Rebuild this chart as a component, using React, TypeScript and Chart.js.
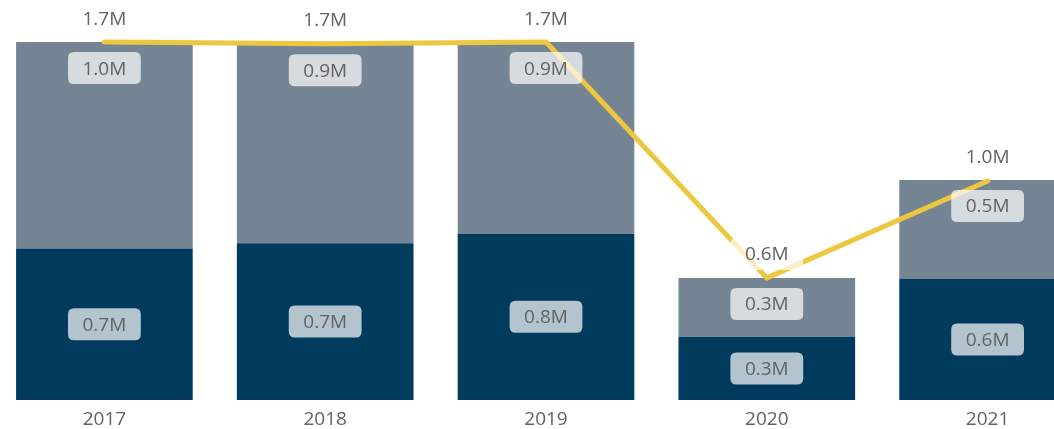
import { useEffect, useRef } from "react";
import { Chart, registerables } from "chart.js";

Chart.register(...registerables);

const years = ["2017", "2018", "2019", "2020", "2021"];
const lowerValues = [0.72, 0.745, 0.79, 0.3, 0.575];
const upperValues = [0.98, 0.945, 0.91, 0.28, 0.47];
const totalValues = [1.7, 1.692, 1.7, 0.58, 1.04];

const DARK = "#003a5c";
const GRAY = "#768593";
const YELLOW = "#ecc73f";
const TEXT = "#626262";
const FONT = '"Open Sans", "Noto Sans", sans-serif';

function roundRect(ctx: CanvasRenderingContext2D, x: number, y: number, w: number, h: number, r: number) {
  ctx.beginPath();
  ctx.moveTo(x + r, y);
  ctx.lineTo(x + w - r, y);
  ctx.quadraticCurveTo(x + w, y, x + w, y + r);
  ctx.lineTo(x + w, y + h - r);
  ctx.quadraticCurveTo(x + w, y + h, x + w - r, y + h);
  ctx.lineTo(x + r, y + h);
  ctx.quadraticCurveTo(x, y + h, x, y + h - r);
  ctx.lineTo(x, y + r);
  ctx.quadraticCurveTo(x, y, x + r, y);
  ctx.closePath();
}

const labelPlugin = {
  id: "valueLabels",
  afterDatasetsDraw(chart: any) {
    const ctx: CanvasRenderingContext2D = chart.ctx;
    ctx.save();
    ctx.font = `19px ${FONT}`;
    ctx.textAlign = "center";
    ctx.textBaseline = "middle";
    const boxH = 32;
    chart.data.datasets.forEach((ds: any, di: number) => {
      const meta = chart.getDatasetMeta(di);
      meta.data.forEach((el: any, i: number) => {
        const v = ds.data[i] as number;
        const text = v.toFixed(1) + "M";
        const tw = ctx.measureText(text).width;
        const boxW = tw + 29;
        const p = el.getProps(["x", "y", "base"], true);
        let cy: number;
        if (ds.type === "line") {
          cy = p.y - 24;
        } else if (ds.label === "Lower") {
          cy = (p.y + p.base) / 2;
        } else {
          cy = p.y + 10 + boxH / 2;
        }
        ctx.fillStyle = "rgba(255,255,255,0.7)";
        roundRect(ctx, p.x - boxW / 2, cy - boxH / 2, boxW, boxH, 6);
        ctx.fill();
        ctx.fillStyle = TEXT;
        ctx.fillText(text, p.x, cy + 1);
      });
    });
    ctx.restore();
  },
};

export default function App() {
  const ref = useRef<HTMLCanvasElement | null>(null);
  useEffect(() => {
    if (!ref.current) return;
    const chart = new Chart(ref.current, {
      type: "bar",
      data: {
        labels: years,
        datasets: [
          {
            type: "line",
            label: "Total",
            data: totalValues,
            borderColor: YELLOW,
            borderWidth: 5,
            borderCapStyle: "round",
            pointRadius: 0,
            pointHoverRadius: 0,
            fill: false,
            tension: 0,
            stack: "line",
            order: 0,
          } as any,
          {
            type: "bar",
            label: "Lower",
            data: lowerValues,
            backgroundColor: DARK,
            stack: "bars",
            barPercentage: 0.8,
            categoryPercentage: 1,
            order: 1,
          },
          {
            type: "bar",
            label: "Upper",
            data: upperValues,
            backgroundColor: GRAY,
            stack: "bars",
            barPercentage: 0.8,
            categoryPercentage: 1,
            order: 1,
          },
        ],
      },
      options: {
        animation: false,
        responsive: true,
        maintainAspectRatio: false,
        layout: { padding: 0 },
        plugins: {
          legend: { display: false },
          tooltip: { enabled: false },
        },
        scales: {
          x: {
            stacked: true,
            grid: { display: false, drawTicks: false },
            border: { display: false },
            ticks: {
              color: TEXT,
              font: { family: FONT, size: 19 },
              padding: 8.6,
            },
          },
          y: {
            stacked: true,
            display: false,
            min: 0,
            max: 1.9,
          },
        },
      },
      plugins: [labelPlugin],
    });
    return () => chart.destroy();
  }, []);

  return (
    <div
      style={{
        position: "fixed",
        left: 0,
        top: 0,
        width: 1054,
        height: 429,
        overflow: "hidden",
        background: "#ffffff",
      }}
    >
      <div style={{ position: "absolute", left: -6, top: 0, width: 1104, height: 440 }}>
        <canvas ref={ref} />
      </div>
    </div>
  );
}
